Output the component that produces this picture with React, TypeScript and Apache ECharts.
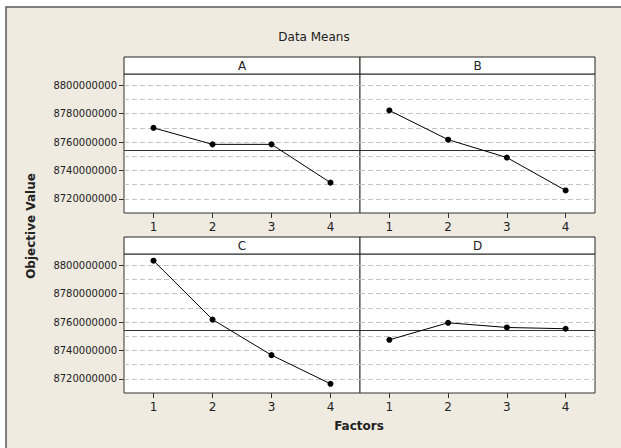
import React, { useEffect, useRef } from "react";
import * as echarts from "echarts";

const levels = ["1", "2", "3", "4"];
const panelNames = ["A", "B", "C", "D"];
const seriesA = [8770.0e6, 8758.4e6, 8758.4e6, 8731.4e6];
const seriesB = [8782.3e6, 8761.7e6, 8749.1e6, 8725.9e6];
const seriesC = [8803.3e6, 8761.8e6, 8736.7e6, 8716.5e6];
const seriesD = [8747.5e6, 8759.5e6, 8756.2e6, 8755.3e6];
const grandMean = 8754.2e6;
const yTickValues = [8720e6, 8740e6, 8760e6, 8780e6, 8800e6];
const gridValues = [8720e6, 8730e6, 8740e6, 8750e6, 8760e6, 8770e6, 8780e6, 8790e6, 8800e6];
const yMin = 8710e6;
const yMax = 8808e6;

const FONT = "'DejaVu Sans', sans-serif";

export default function App() {
  const ref = useRef<HTMLDivElement>(null);
  useEffect(() => {
    document.body.style.margin = "0";
    if (!ref.current) return;
    const chart = echarts.init(ref.current, null, { renderer: "svg" });
    const allSeries = [seriesA, seriesB, seriesC, seriesD];
    const pos = [
      { left: 124, top: 74 },
      { left: 360, top: 74 },
      { left: 124, top: 254 },
      { left: 360, top: 254 },
    ];
    const widths = [236, 235, 236, 235];
    const grids = pos.map((p, i) => ({
      left: p.left,
      top: p.top,
      width: widths[i],
      height: 139,
      show: true,
      backgroundColor: "#ffffff",
      borderColor: "#333333",
      borderWidth: 1,
      z: 1,
    }));
    const xAxes = pos.map((_, i) => ({
      type: "category",
      gridIndex: i,
      data: levels,
      boundaryGap: true,
      axisLine: { show: false },
      axisTick: { show: true, alignWithLabel: true, length: 5, lineStyle: { color: "#333" } },
      axisLabel: { color: "#222", fontFamily: FONT, fontSize: 12, margin: 8 },
      splitLine: { show: false },
    }));
    const yAxes = pos.map((_, i) => ({
      type: "value",
      gridIndex: i,
      min: yMin,
      max: yMax,
      axisLine: { show: false },
      axisTick: {
        show: i % 2 === 0,
        length: 5,
        customValues: yTickValues,
        lineStyle: { color: "#333" },
      },
      axisLabel: {
        show: i % 2 === 0,
        customValues: yTickValues,
        color: "#222",
        fontFamily: FONT,
        fontSize: 10,
        margin: 7,
        formatter: (v: number) => String(Math.round(v)),
      },
      splitLine: { show: false },
    }));
    const series = allSeries.map((data, i) => ({
      type: "line",
      xAxisIndex: i,
      yAxisIndex: i,
      data: data,
      symbol: "circle",
      symbolSize: 6,
      itemStyle: { color: "#000" },
      lineStyle: { color: "#000", width: 1 },
      z: 5,
      markLine: {
        silent: true,
        symbol: ["none", "none"],
        label: { show: false },
        z: 2,
        animation: false,
        data: [
          ...gridValues.map((v) => ({
            yAxis: v,
            lineStyle: { color: "#c4c4c4", type: [5, 3], width: 1 },
          })),
          { yAxis: grandMean, lineStyle: { color: "#333", type: "solid", width: 1 } },
        ],
      },
    }));
    const stripTops = [57, 57, 237, 237];
    const graphic: any[] = [
      {
        type: "rect",
        z: -10,
        silent: true,
        shape: { x: 6, y: 7, width: 640, height: 460 },
        style: { fill: "#EFEBE0", stroke: "#5a5a5a", lineWidth: 1.5 },
      },
      {
        type: "text",
        z: 10,
        x: 314,
        y: 37,
        style: {
          text: "Data Means",
          fill: "#222",
          font: `12px ${FONT}`,
          align: "center",
          verticalAlign: "middle",
        },
      },
      {
        type: "text",
        z: 10,
        x: 31,
        y: 226,
        rotation: Math.PI / 2,
        style: {
          text: "Objective Value",
          fill: "#222",
          font: `bold 12px ${FONT}`,
          align: "center",
          verticalAlign: "middle",
        },
      },
      {
        type: "text",
        z: 10,
        x: 359,
        y: 426,
        style: {
          text: "Factors",
          fill: "#222",
          font: `bold 12px ${FONT}`,
          align: "center",
          verticalAlign: "middle",
        },
      },
    ];
    pos.forEach((p, i) => {
      graphic.push({
        type: "rect",
        z: 10,
        silent: true,
        shape: { x: p.left, y: stripTops[i], width: widths[i], height: 17 },
        style: { fill: "#ffffff", stroke: "#222", lineWidth: 1 },
      });
      graphic.push({
        type: "text",
        z: 11,
        x: p.left + widths[i] / 2,
        y: stripTops[i] + 9,
        style: {
          text: panelNames[i],
          fill: "#222",
          font: `12px ${FONT}`,
          align: "center",
          verticalAlign: "middle",
        },
      });
    });
    chart.setOption({
      animation: false,
      backgroundColor: "#ffffff",
      grid: grids,
      xAxis: xAxes,
      yAxis: yAxes,
      series: series,
      graphic: graphic,
    });
    return () => chart.dispose();
  }, []);
  return <div ref={ref} style={{ width: 621, height: 448 }} />;
}
